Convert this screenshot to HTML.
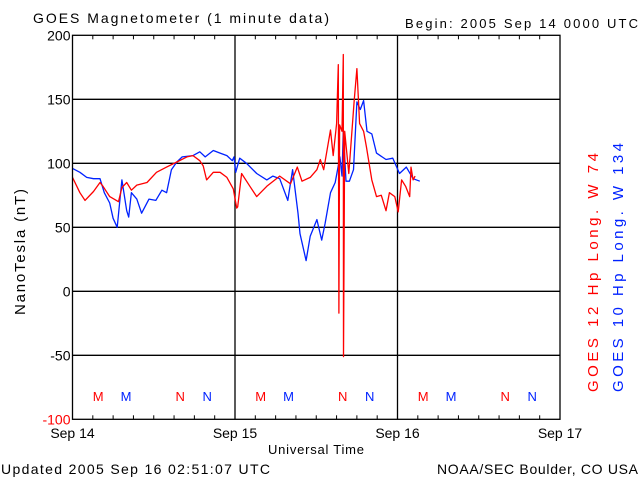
<!DOCTYPE html>
<html><head><meta charset="utf-8"><style>
body{margin:0;background:#fff;}
svg{display:block;font-family:"Liberation Sans",sans-serif;}
</style></head><body>
<svg id="chart" width="640" height="480" viewBox="0 0 640 480">
<text x="33" y="23" font-size="14" textLength="296" lengthAdjust="spacing">GOES Magnetometer (1 minute data)</text>
<text x="405" y="28" font-size="13" textLength="233" lengthAdjust="spacing">Begin:  2005 Sep 14 0000 UTC</text>
<text transform="translate(25,315) rotate(-90)" font-size="15" textLength="126" lengthAdjust="spacing">NanoTesla (nT)</text>
<text x="268" y="454" font-size="13" textLength="96" lengthAdjust="spacing">Universal Time</text>
<text x="1" y="474" font-size="14" textLength="269" lengthAdjust="spacing">Updated 2005 Sep 16 02:51:07 UTC</text>
<text x="437" y="474" font-size="14" textLength="201" lengthAdjust="spacing">NOAA/SEC Boulder, CO USA</text>
<text transform="translate(598,392) rotate(-90)" font-size="15" fill="#ff0000" textLength="239" lengthAdjust="spacing">GOES 12 Hp  Long. W 74</text>
<text transform="translate(623,392) rotate(-90)" font-size="15" fill="#0022ff" textLength="249" lengthAdjust="spacing">GOES 10 Hp  Long. W 134</text>
<g id="grid"></g><g id="series"></g><g id="axes"></g>
</svg>
<script>
const yTicks=[200,150,100,50,0,-50,-100];
const dayLabels=["Sep 14","Sep 15","Sep 16","Sep 17"];
const redHours=[0,1.1,1.85,3.1,4.06,4.5,5.5,6.8,7.3,8,8.7,9.5,11,12.4,13.9,15.4,16.9,17.8,18.8,19.3,19.8,20.8,21.8,22.8,23.75,24.25,24.4,24.97,26.2,27.2,28.7,30.6,32.2,33.2,33.9,35.1,36.1,36.6,37.1,38.1,38.5,39.0,39.25,39.35,39.45,39.8,40.0,40.02,40.2,40.8,41.6,42.0,42.4,43.0,43.4,44.2,44.9,45.6,46.3,46.8,47.6,48.1,48.6,49.2,49.8,50.0,50.3,50.6];
const redValues=[89,77,71,78,85,82,74,70,81,85,79,83,85,93,97,101,105,106,102,98,87,93,93,89,80,65,66,92,82,74,82,90,84,97,86,89,95,103,95,126,106,131,177,-17,130,125,185,-51,125,92,149,174,131,125,113,87,74,75,63,77,74,62,87,82,74,97,87,90];
const blueHours=[0,1.1,2.1,3.1,4.06,4.7,5.5,6,6.6,7.3,8,8.3,8.7,9.5,10.2,11.3,12.3,13.2,13.9,14.6,15.4,16.2,17.8,18.8,19.6,20.8,21.8,22.8,23.6,23.85,24.1,24.7,25.7,27.2,28.7,29.6,30.6,31.8,32.5,33.3,33.6,34.5,35.1,36.1,36.8,37.3,38.1,38.8,39.5,39.8,40.0,40.4,40.9,41.5,42.0,42.5,43.0,43.5,44.2,44.9,46.3,47.3,48.3,49.3,50.3,51.3];
const blueValues=[96,93,89,88,88,77,69,57,50,87,63,58,77,72,61,72,71,79,77,95,101,105,106,109,105,110,108,106,102,105,93,104,100,92,87,90,88,71,95,61,45,24,43,56,40,53,77,85,105,90,126,86,86,95,148,142,149,125,123,108,103,104,92,97,88,86];
const markHours=[3.8,7.9,15.9,19.9,27.8,31.9,39.9,43.9,51.8,55.9,63.9,67.9];
const markLetters=["M","M","N","N","M","M","N","N","M","M","N","N"];
const markColors=["#ff0000","#0022ff","#ff0000","#0022ff","#ff0000","#0022ff","#ff0000","#0022ff","#ff0000","#0022ff","#ff0000","#0022ff"];

const NS="http://www.w3.org/2000/svg";
const X0=72.5,X1=560,Y0=35.3,Y1=419.3;
const xs=h=>X0+h*(X1-X0)/72;
const ys=v=>Y0+(200-v)*(Y1-Y0)/300;
function mk(tag,attrs,parent){const e=document.createElementNS(NS,tag);for(const k in attrs)e.setAttribute(k,attrs[k]);parent.appendChild(e);return e;}
const grid=document.getElementById('grid'),axes=document.getElementById('axes'),series=document.getElementById('series');

yTicks.forEach((v,i)=>{
  if(v<200&&v>-100){const l=mk('line',{x1:X0,x2:X1,y1:ys(v),y2:ys(v),stroke:'#000','stroke-width':1.3},grid);
  
  }
  const t=mk('text',{x:X0-2,y:ys(v)+5,'font-size':14,'text-anchor':'end',fill:v===-100?'#ff0000':'#000'},axes);
  t.textContent=v;
  
  
});
dayLabels.forEach((d,i)=>{
  const x=xs(i*24);
  if(i===1||i===2){const l=mk('line',{x1:x,x2:x,y1:Y0,y2:Y1,stroke:'#000','stroke-width':1.3},grid);
  
  }
  const t=mk('text',{x:x,y:438,'font-size':14,'text-anchor':'middle'},axes);
  t.textContent=d;
  
  
});
for(let h=3;h<72;h+=3){
  const x=xs(h);
  const a=mk('line',{x1:x,x2:x,y1:Y1,y2:Y1-4,stroke:'#000'},axes);
  
  
  const b=mk('line',{x1:x,x2:x,y1:Y0,y2:Y0+4,stroke:'#000'},axes);
  
  
}
const frame=mk('rect',{x:X0,y:Y0,width:X1-X0,height:Y1-Y0,fill:'none',stroke:'#000','stroke-width':1.3},axes);



function line(hs,vs,color,name){
  const p=mk('polyline',{points:hs.map((h,i)=>xs(h).toFixed(1)+','+ys(vs[i]).toFixed(1)).join(' '),fill:'none',stroke:color,'stroke-width':1.3,'stroke-linejoin':'round'},series);
  
  
}
line(blueHours,blueValues,'#0022ff','goes10-line');
line(redHours,redValues,'#ff0000','goes12-line');

markHours.forEach((h,i)=>{
  const t=mk('text',{x:xs(h),y:401,'font-size':13,'text-anchor':'middle',fill:markColors[i]},axes);
  t.textContent=markLetters[i];
  
  
});
</script>
</body></html>
